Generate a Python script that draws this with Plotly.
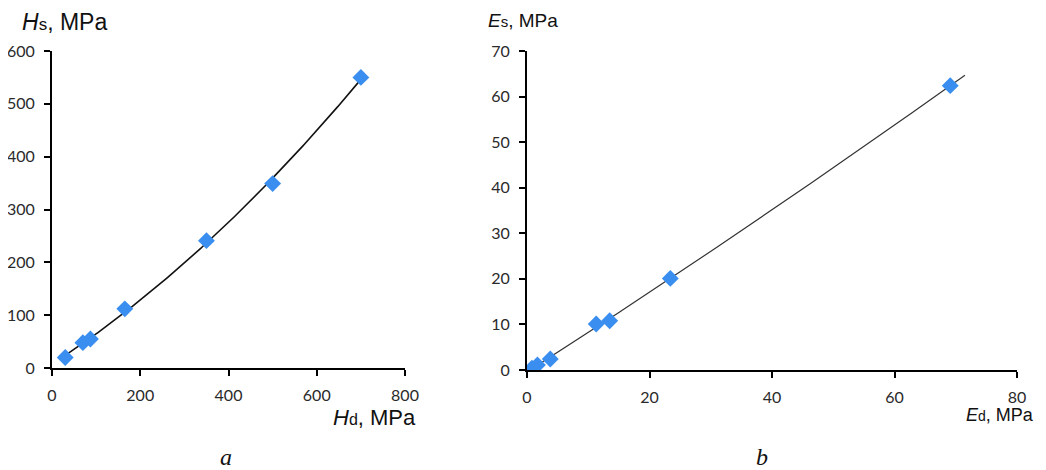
import numpy as np
import plotly.graph_objects as go

# ---- data ----
hd = [30, 70, 87, 165, 350, 500, 700]          # Hd, MPa
hs = [20, 48, 55, 112, 241, 349, 550]          # Hs, MPa

ed = [0.8, 1.7, 3.8, 11.3, 13.5, 23.4, 69.1]   # Ed, MPa
es = [0.4, 1.1, 2.4, 10.1, 10.8, 20.1, 62.4]   # Es, MPa
ed_trend_end = 71.5                            # trendline forecast end

x_ticks_a = [0, 200, 400, 600, 800]
y_ticks_a = [0, 100, 200, 300, 400, 500, 600]
x_ticks_b = [0, 20, 40, 60, 80]
y_ticks_b = [0, 10, 20, 30, 40, 50, 60, 70]

# ---- trendlines (2nd-order polynomial fits, as in the original) ----
ca = np.polyfit(hd, hs, 2)
xa = np.linspace(min(hd), max(hd), 200)
ya = np.polyval(ca, xa)
cb = np.polyfit(ed, es, 2)
xb = np.linspace(0.5, ed_trend_end, 200)
yb = np.polyval(cb, xb)

# page body has an 8px margin: size the figure so it fits the 1046x470 window
OFF = 8
W, H = 1046 - OFF, 470 - OFF
def px(x):  # window x pixel -> paper fraction
    return (x - OFF) / W
def py(y):  # window y pixel -> paper fraction
    return 1 - (y - OFF) / H

BLUE = "#3a8ef0"
TICKFONT = dict(family="Lato, Open Sans, sans-serif", size=16, color="#2a2a2a")

fig = go.Figure()
fig.add_trace(go.Scatter(x=xa, y=ya, mode="lines", line=dict(color="#111111", width=1.6),
                         xaxis="x", yaxis="y", hoverinfo="skip"))
fig.add_trace(go.Scatter(x=hd, y=hs, mode="markers",
                         marker=dict(symbol="diamond", size=13, color=BLUE),
                         xaxis="x", yaxis="y"))
fig.add_trace(go.Scatter(x=xb, y=yb, mode="lines", line=dict(color="#333333", width=1.2),
                         xaxis="x2", yaxis="y2", hoverinfo="skip"))
fig.add_trace(go.Scatter(x=ed, y=es, mode="markers",
                         marker=dict(symbol="diamond", size=13, color=BLUE),
                         xaxis="x2", yaxis="y2"))

axis_common = dict(showgrid=False, zeroline=False, showline=True, linecolor="black",
                   linewidth=2, ticks="outside", ticklen=6, tickwidth=1.5,
                   tickcolor="black", tickfont=TICKFONT, fixedrange=True,
                   automargin=False)

fig.update_layout(
    width=W, height=H,
    margin=dict(l=0, r=0, t=0, b=0, autoexpand=False),
    paper_bgcolor="white", plot_bgcolor="white",
    showlegend=False,
    xaxis=dict(domain=[px(52), px(405)], range=[0, 800], tickvals=x_ticks_a,
               anchor="y", ticklabelstandoff=6, **axis_common),
    yaxis=dict(domain=[py(368), py(51)], range=[0, 600], tickvals=y_ticks_a,
               anchor="x", ticklabelstandoff=6, **axis_common),
    xaxis2=dict(domain=[px(527), px(1017)], range=[0, 80], tickvals=x_ticks_b,
                anchor="y2", ticklabelstandoff=6, **axis_common),
    yaxis2=dict(domain=[py(370), py(51)], range=[0, 70], tickvals=y_ticks_b,
                anchor="x2", ticklabelstandoff=6, **axis_common),
)

TFONT = "Liberation Sans, Arial, sans-serif"
def title_text(main, sub, big, small):
    return (f"<i>{main}</i><span style='font-size:{small}px'>{sub}</span>"
            f"<span style='font-size:{big}px'>, MPa</span>")

ann = [
    dict(text=title_text("H", "s", 23, 17), x=20, y=22, xanchor="left", font_size=23),
    dict(text=title_text("H", "d", 22, 16), x=418, y=417, xanchor="right", font_size=22),
    dict(text=title_text("E", "s", 19, 15), x=486, y=21, xanchor="left", font_size=19),
    dict(text=title_text("E", "d", 18, 14), x=1036, y=415, xanchor="right", font_size=18),
]
for a in ann:
    fig.add_annotation(text=a["text"], xref="paper", yref="paper",
                       x=px(a["x"]), y=py(a["y"]),
                       xanchor=a["xanchor"], yanchor="middle", showarrow=False,
                       font=dict(family=TFONT, size=a["font_size"], color="#111111"))

for lab, cx in (("a", 226), ("b", 762)):
    fig.add_annotation(text=f"<i>{lab}</i>", xref="paper", yref="paper",
                       x=px(cx), y=py(472), xanchor="center", yanchor="bottom",
                       showarrow=False,
                       font=dict(family="Liberation Serif, Times New Roman, serif",
                                 size=24, color="#111111"))

fig.write_html("out.html")
